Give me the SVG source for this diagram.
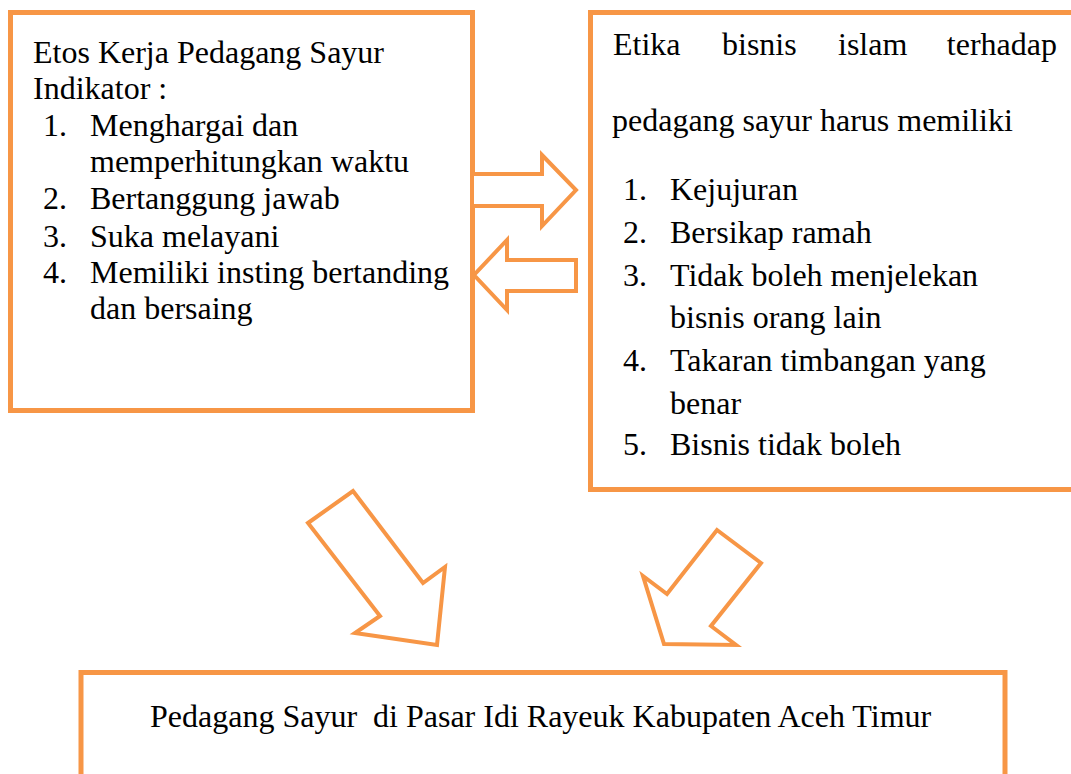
<svg xmlns="http://www.w3.org/2000/svg" width="1071" height="774" viewBox="0 0 1071 774">
<style>
.box{fill:#fff;stroke:#F79646;stroke-width:5}
.arr{fill:#fff;stroke:#F79646;stroke-width:4;stroke-linejoin:miter}
text{font-family:"Liberation Serif","Times New Roman",serif;font-size:32px;fill:#000}
</style>
<rect width="1071" height="774" fill="#fff"/>
<g id="box-etos">
<rect class="box" x="10.5" y="12.5" width="462" height="398"/>
<text x="33" y="63">Etos Kerja Pedagang Sayur</text>
<text x="33" y="99">Indikator :</text>
<text x="43" y="136">1.</text><text x="90" y="136">Menghargai dan</text>
<text x="90" y="172">memperhitungkan waktu</text>
<text x="43" y="209">2.</text><text x="90" y="209">Bertanggung jawab</text>
<text x="43" y="247">3.</text><text x="90" y="247">Suka melayani</text>
<text x="43" y="283">4.</text><text x="90" y="283">Memiliki insting bertanding</text>
<text x="90" y="319">dan bersaing</text>
</g>
<g id="box-etika">
<rect class="box" x="590.5" y="12.5" width="500" height="477"/>
<text x="613" y="55">Etika</text>
<text x="722" y="55">bisnis</text>
<text x="838" y="55">islam</text>
<text x="1057" y="55" text-anchor="end">terhadap</text>
<text x="612" y="131">pedagang sayur harus memiliki</text>
<text x="623" y="200">1.</text><text x="670" y="200">Kejujuran</text>
<text x="623" y="243">2.</text><text x="670" y="243">Bersikap ramah</text>
<text x="623" y="286">3.</text><text x="670" y="286">Tidak boleh menjelekan</text>
<text x="670" y="328">bisnis orang lain</text>
<text x="623" y="371">4.</text><text x="670" y="371">Takaran timbangan yang</text>
<text x="670" y="414">benar</text>
<text x="623" y="455">5.</text><text x="670" y="455">Bisnis tidak boleh</text>
</g>
<g id="box-pedagang">
<rect class="box" x="81" y="672.5" width="924" height="130"/>
<text x="150" y="727" xml:space="preserve">Pedagang Sayur  di Pasar Idi Rayeuk Kabupaten Aceh Timur</text>
</g>
<g id="connectors">
<polygon class="arr" points="472,174 542,174 542,155 576,190 542,226 542,206 472,206"/>
<polygon class="arr" points="576,260 507,260 507,240 474,275 507,310 507,291 576,291"/>
<polygon class="arr" points="308,523 353,491 423,583 445,567 437,645 355,633 380,616"/>
<polygon class="arr" points="717,530 761,563 711,626 736,645 664,644 643,576 667,594"/>
</g>
</svg>
